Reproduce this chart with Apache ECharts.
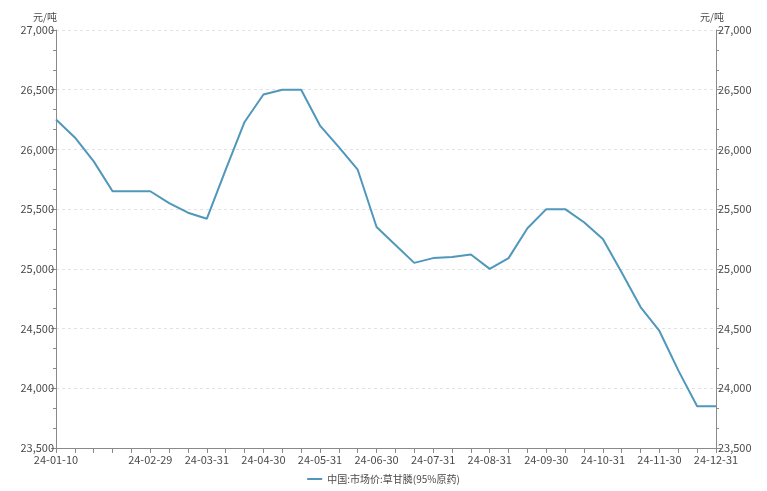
<!DOCTYPE html>
<html>
<head>
<meta charset="utf-8">
<script src="https://cdn.jsdelivr.net/npm/echarts@6/dist/echarts.min.js"></script>
<style>
html,body{margin:0;padding:0;background:#fff;}
#chart{width:767px;height:491px;}
</style>
</head>
<body>
<div id="chart"></div>
<script>
const categories = [
  '24-01-10','24-01-20','24-01-31',
  '24-02-10','24-02-20','24-02-29',
  '24-03-10','24-03-20','24-03-31',
  '24-04-10','24-04-20','24-04-30',
  '24-05-10','24-05-20','24-05-31',
  '24-06-10','24-06-20','24-06-30',
  '24-07-10','24-07-20','24-07-31',
  '24-08-10','24-08-20','24-08-31',
  '24-09-10','24-09-20','24-09-30',
  '24-10-10','24-10-20','24-10-31',
  '24-11-10','24-11-20','24-11-30',
  '24-12-10','24-12-20','24-12-31'
];
const seriesName = '中国:市场价:草甘膦(95%原药)';
const values = [
  26250, 26100, 25900,
  25650, 25650, 25650,
  25550, 25470, 25420,
  25830, 26230, 26460,
  26500, 26500, 26200,
  26020, 25830, 25350,
  25200, 25050, 25090,
  25100, 25120, 25000,
  25090, 25340, 25500,
  25500, 25390, 25250,
  24970, 24680, 24480,
  24150, 23850, 23850
];
const yUnit = '元/吨';
const yMin = 23500, yMax = 27000, yStep = 500;

const font = '"Noto Sans CJK SC","Noto Sans",sans-serif';
const axisColor = '#8a8a8a';
const labelColor = '#4a4a4a';
const lineColor = '#4f97bb';

function yAxisCfg(pos, split) {
  return {
    type: 'value', position: pos, min: yMin, max: yMax, interval: yStep,
    name: yUnit, nameLocation: 'end', nameGap: 8,
    nameTextStyle: {color: labelColor, fontSize: 10, fontFamily: font,
      padding: pos === 'left' ? [0, 22, 0, 0] : [0, 8, 0, 0]},
    axisLine: {show: true, lineStyle: {color: axisColor, width: 1}},
    axisTick: {show: true, length: 5, lineStyle: {color: axisColor}},
    minorTick: {show: true, splitNumber: 3, length: 3, lineStyle: {color: axisColor}},
    axisLabel: {color: labelColor, fontSize: 11, fontFamily: font, margin: 2,
      formatter: v => v.toLocaleString('en-US')},
    splitLine: {show: split, lineStyle: {color: '#e2e2e2', type: [3, 3], width: 1}}
  };
}

const chart = echarts.init(document.getElementById('chart'), null, {renderer: 'canvas'});
chart.setOption({
  animation: false,
  grid: {left: 56, right: 51, top: 30, bottom: 43, containLabel: false},
  legend: {
    bottom: 2, left: 'center',
    icon: 'rect', itemWidth: 15, itemHeight: 2, itemGap: 10,
    textStyle: {color: labelColor, fontSize: 10, fontFamily: font},
    data: [seriesName]
  },
  xAxis: {
    type: 'category', data: categories, boundaryGap: false,
    axisLine: {lineStyle: {color: axisColor, width: 1}},
    axisTick: {show: true, interval: 0, length: 5, lineStyle: {color: axisColor}},
    axisLabel: {
      color: labelColor, fontSize: 11, fontFamily: font, margin: 6,
      interval: (i) => i === 0 || (i > 2 && i % 3 === 2),
      showMaxLabel: true
    },
    splitLine: {show: false}
  },
  yAxis: [yAxisCfg('left', true), yAxisCfg('right', false)],
  series: [{
    name: seriesName, type: 'line', yAxisIndex: 0,
    data: values, symbol: 'none', smooth: false,
    lineStyle: {color: lineColor, width: 2},
    itemStyle: {color: lineColor}
  }]
});
</script>
</body>
</html>
